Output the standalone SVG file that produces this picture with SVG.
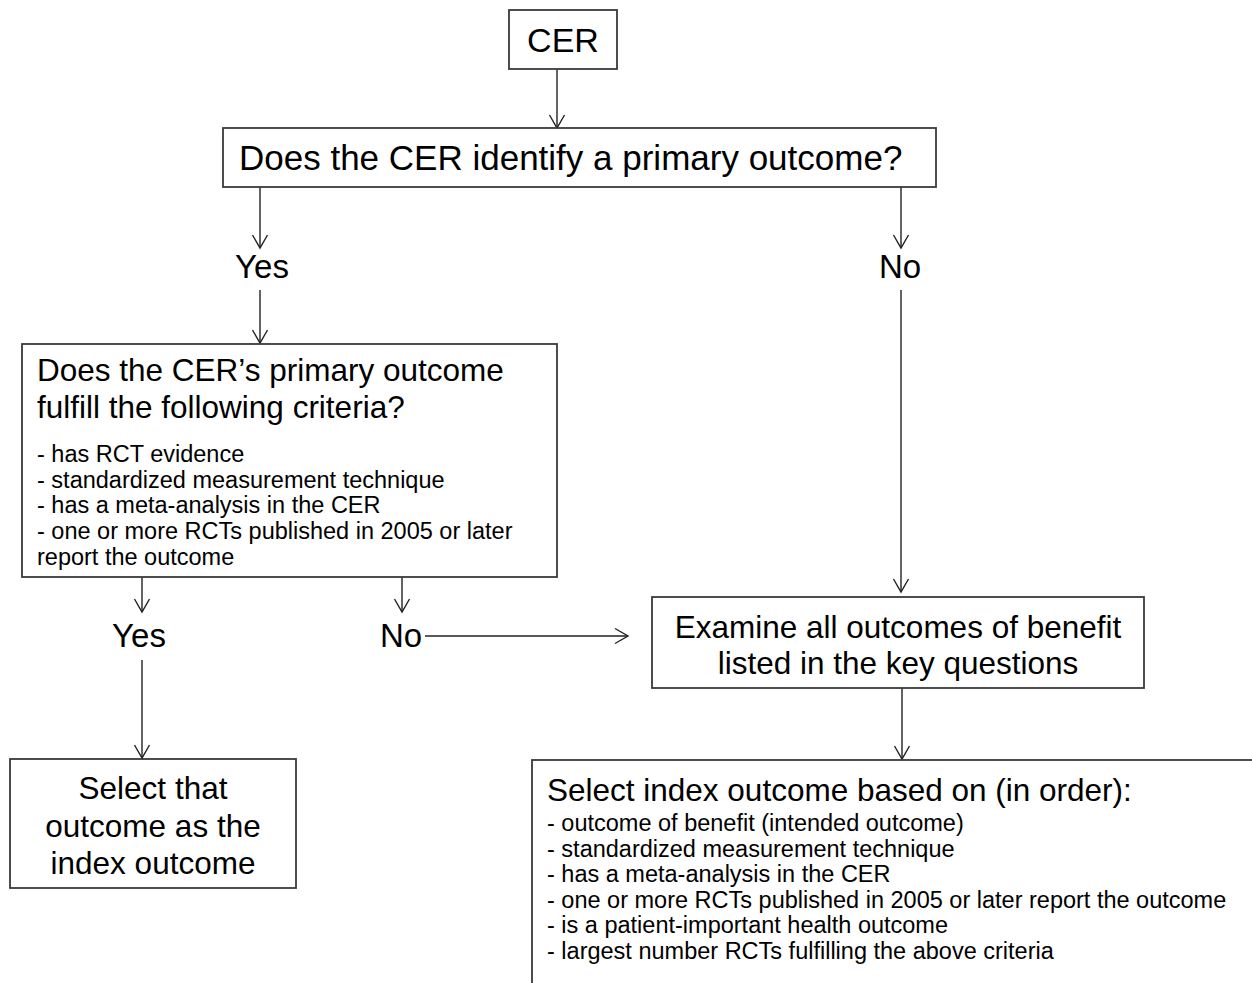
<svg xmlns="http://www.w3.org/2000/svg" width="1252" height="983" viewBox="0 0 1252 983">
  <style>
    .box { fill: #ffffff; stroke: #3a3a3a; stroke-width: 1.8; }
    .conn { fill: none; stroke: #222222; stroke-width: 1.4; }
    text { font-family: "Liberation Sans", Arial, sans-serif; fill: #000000; }
    .big { font-size: 31.5px; }
    .lbl { font-size: 33px; text-anchor: middle; }
    .small { font-size: 23.5px; }
    .mid { text-anchor: middle; }
  </style>
  <defs>
    <marker id="arr" markerUnits="userSpaceOnUse" markerWidth="30" markerHeight="30" refX="0" refY="0" orient="auto" overflow="visible">
      <path d="M -13 -7.5 L 0 0 L -13 7.5" fill="none" stroke="#222222" stroke-width="1.4"/>
    </marker>
  </defs>
  <rect width="1252" height="983" fill="#ffffff"/>

  <g id="connectors">
    <line class="conn" x1="557" y1="69" x2="557" y2="128" marker-end="url(#arr)"/>
    <line class="conn" x1="260" y1="187" x2="260" y2="248" marker-end="url(#arr)"/>
    <line class="conn" x1="260" y1="290" x2="260" y2="343" marker-end="url(#arr)"/>
    <line class="conn" x1="901" y1="187" x2="901" y2="248" marker-end="url(#arr)"/>
    <line class="conn" x1="901" y1="290" x2="901" y2="592" marker-end="url(#arr)"/>
    <line class="conn" x1="142" y1="577" x2="142" y2="612" marker-end="url(#arr)"/>
    <line class="conn" x1="142" y1="660" x2="142" y2="758" marker-end="url(#arr)"/>
    <line class="conn" x1="402" y1="577" x2="402" y2="612" marker-end="url(#arr)"/>
    <line class="conn" x1="425" y1="636" x2="628" y2="636" marker-end="url(#arr)"/>
    <line class="conn" x1="902" y1="688" x2="902" y2="759" marker-end="url(#arr)"/>
  </g>

  <g id="cer">
    <rect class="box" x="509" y="10" width="108" height="59"/>
    <text x="563" y="52" class="mid" font-size="34">CER</text>
  </g>

  <g id="q1">
    <rect class="box" x="223" y="128" width="713" height="59"/>
    <text x="239" y="170" font-size="35">Does the CER identify a primary outcome?</text>
  </g>

  <g id="label-yes-1"><text x="262" y="278" class="lbl">Yes</text></g>
  <g id="label-no-1"><text x="900" y="278" class="lbl">No</text></g>

  <g id="q2">
    <rect class="box" x="22" y="344" width="535" height="233"/>
    <text x="37" y="381" class="big">Does the CER’s primary outcome</text>
    <text x="37" y="418" class="big">fulfill the following criteria?</text>
    <text x="37" y="462" class="small">- has RCT evidence</text>
    <text x="37" y="488" class="small">- standardized measurement technique</text>
    <text x="37" y="513" class="small">- has a meta-analysis in the CER</text>
    <text x="37" y="539" class="small">- one or more RCTs published in 2005 or later</text>
    <text x="37" y="565" class="small">report the outcome</text>
  </g>

  <g id="label-yes-2"><text x="139" y="647" class="lbl">Yes</text></g>
  <g id="label-no-2"><text x="401" y="647" class="lbl">No</text></g>

  <g id="examine">
    <rect class="box" x="652" y="597" width="492" height="91"/>
    <text x="898" y="638" class="big mid">Examine all outcomes of benefit</text>
    <text x="898" y="674" class="big mid">listed in the key questions</text>
  </g>

  <g id="select-that">
    <rect class="box" x="10" y="759" width="286" height="129"/>
    <text x="153" y="799" class="big mid">Select that</text>
    <text x="153" y="837" class="big mid">outcome as the</text>
    <text x="153" y="874" class="big mid">index outcome</text>
  </g>

  <g id="select-index">
    <rect class="box" x="532" y="760" width="760" height="260"/>
    <text x="547" y="801" class="big">Select index outcome based on (in order):</text>
    <text x="547" y="831" class="small">- outcome of benefit (intended outcome)</text>
    <text x="547" y="857" class="small">- standardized measurement technique</text>
    <text x="547" y="882" class="small">- has a meta-analysis in the CER</text>
    <text x="547" y="908" class="small">- one or more RCTs published in 2005 or later report the outcome</text>
    <text x="547" y="933" class="small">- is a patient-important health outcome</text>
    <text x="547" y="959" class="small">- largest number RCTs fulfilling the above criteria</text>
  </g>
</svg>
